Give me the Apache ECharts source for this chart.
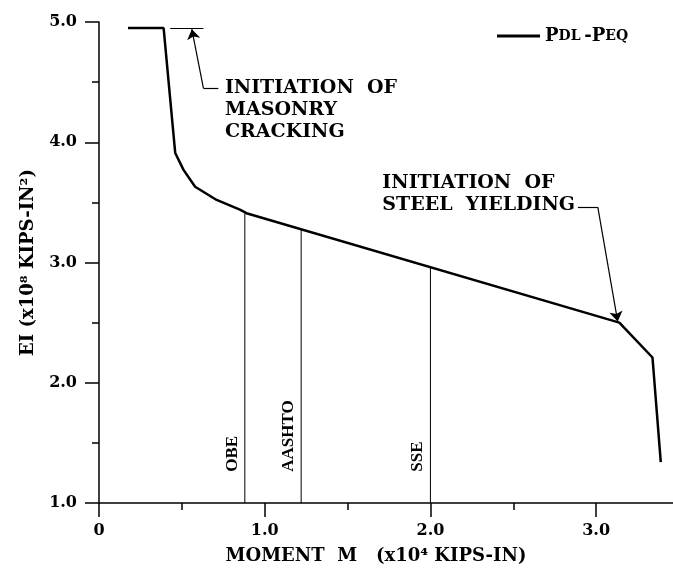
<!DOCTYPE html>
<html>
<head>
<meta charset="utf-8">
<script src="https://cdn.jsdelivr.net/npm/echarts@6/dist/echarts.min.js"></script>
<style>
  html, body { margin: 0; padding: 0; background: #fff; }
  #main { width: 673px; height: 572px; }
</style>
</head>
<body>
<div id="main"></div>
<script>
// EI vs moment curve (PDL - PEQ)
const momentVals = [0.175, 0.39, 0.46, 0.51, 0.58, 0.71, 0.85, 0.89, 3.14, 3.34, 3.39];
const eiVals = [4.95, 4.95, 3.91, 3.77, 3.63, 3.52, 3.44, 3.41, 2.50, 2.21, 1.34];

// demand levels (vertical lines)
const demandNames = ['OBE', 'AASHTO', 'SSE'];
const demandMoment = [0.88, 1.22, 2.0];
const demandEI = [3.41, 3.28, 2.96];
const demandLabelEI = 1.26;

// tick labels
const xTicks = [0, 1, 2, 3];
const xTickLabels = ['0', '1.0', '2.0', '3.0'];
const yTicks = [1, 2, 3, 4, 5];
const yTickLabels = ['1.0', '2.0', '3.0', '4.0', '5.0'];

// annotations
const crackText = 'INITIATION  OF\nMASONRY\nCRACKING';
const crackTextAt = [0.76, 4.54];
const crackMark = [[0.43, 4.95], [0.63, 4.95]];
const crackLeader = [[0.72, 4.45], [0.63, 4.45], [0.56, 4.94]];
const yieldText = 'INITIATION  OF\nSTEEL  YIELDING';
const yieldTextAt = [1.71, 3.75];
const yieldLeader = [[2.89, 3.46], [3.01, 3.46], [3.13, 2.51]];

const FONT = 'DejaVu Serif';
const FONT2 = 'Liberation Serif';

let curve = momentVals.map((m, i) => [m, eiVals[i]]);

let demandSeries = demandNames.map((n, i) => ({
    type: 'line',
    name: n,
    data: [[demandMoment[i], 1], [demandMoment[i], demandEI[i]]],
    showSymbol: false,
    lineStyle: { color: '#000', width: 1 },
    silent: true,
    z: 1
}));

function seg(a, b, endSymbol) {
    return [
        { coord: a, symbol: 'none' },
        { coord: b, symbol: endSymbol }
    ];
}

let myChart = echarts.init(document.getElementById('main'));

let option = {
    backgroundColor: '#fff',
    animation: false,
    textStyle: { fontFamily: FONT, color: '#000' },
    grid: { left: 99, width: 580, top: 22, bottom: 69, outerBoundsMode: 'none', containLabel: false },
    legend: {
        data: ['PDL -PEQ'],
        left: 492,
        top: 22,
        icon: 'rect',
        itemWidth: 43,
        itemHeight: 3,
        itemGap: 8,
        formatter: () => '{b|P}{s|DL} {b|-}{b|P}{s|EQ}',
        textStyle: {
            color: '#000',
            rich: {
                b: { fontFamily: FONT, fontWeight: 'bold', fontSize: 18, color: '#000' },
                s: { fontFamily: FONT, fontWeight: 'bold', fontSize: 14, color: '#000' }
            }
        }
    },
    xAxis: {
        type: 'value',
        min: 0,
        max: 3.5,
        interval: 1,
        name: 'MOMENT  M   (x10⁴ KIPS-IN)',
        nameLocation: 'middle',
        nameGap: 44,
        nameTextStyle: { fontFamily: FONT, fontWeight: 'bold', fontSize: 18, color: '#000', padding: [0, 26, 0, 0] },
        axisLine: { lineStyle: { color: '#000', width: 1.5 } },
        axisTick: { length: 14, lineStyle: { color: '#000', width: 1.5 } },
        minorTick: { show: true, splitNumber: 2, length: 7, lineStyle: { color: '#000', width: 1.5 } },
        splitLine: { show: false },
        axisLabel: {
            margin: 20,
            fontFamily: FONT, fontWeight: 'bold', fontSize: 16, color: '#000',
            formatter: v => { let k = xTicks.indexOf(v); return k >= 0 ? xTickLabels[k] : ''; }
        }
    },
    yAxis: {
        type: 'value',
        min: 1,
        max: 5,
        interval: 1,
        name: 'EI (x10⁸ KIPS-IN²)',
        nameLocation: 'middle',
        nameGap: 62,
        nameTextStyle: { fontFamily: FONT, fontWeight: 'bold', fontSize: 18, color: '#000' },
        axisLine: { show: true, lineStyle: { color: '#000', width: 1.5 } },
        axisTick: { show: true, length: 14, lineStyle: { color: '#000', width: 1.5 } },
        minorTick: { show: true, splitNumber: 2, length: 7, lineStyle: { color: '#000', width: 1.5 } },
        splitLine: { show: false },
        axisLabel: {
            margin: 22,
            fontFamily: FONT, fontWeight: 'bold', fontSize: 16, color: '#000',
            formatter: v => { let k = yTicks.indexOf(v); return k >= 0 ? yTickLabels[k] : ''; }
        }
    },
    series: [
        {
            type: 'line',
            name: 'PDL -PEQ',
            data: curve,
            showSymbol: false,
            lineStyle: { color: '#000', width: 2.5 },
            itemStyle: { color: '#000' },
            z: 3
        },
        ...demandSeries,
        {
            type: 'scatter',
            name: 'demandLabels',
            data: demandNames.map((n, i) => [demandMoment[i], demandLabelEI, n]),
            symbolSize: 0,
            silent: true,
            itemStyle: { opacity: 1, color: '#000' },
            label: {
                show: true,
                position: [-4, 0],
                rotate: 90,
                align: 'left',
                verticalAlign: 'bottom',
                fontFamily: FONT2, fontWeight: 'bold', fontSize: 17, color: '#000',
                formatter: p => p.data[2]
            }
        },
        {
            type: 'scatter',
            name: 'notes',
            data: [
                [crackTextAt[0], crackTextAt[1], crackText],
                [yieldTextAt[0], yieldTextAt[1], yieldText]
            ],
            symbolSize: 0,
            silent: true,
            itemStyle: { opacity: 1, color: '#000' },
            label: {
                show: true,
                position: [0, 0],
                align: 'left',
                verticalAlign: 'top',
                lineHeight: 22,
                fontFamily: FONT, fontWeight: 'bold', fontSize: 19, color: '#000',
                formatter: p => p.data[2]
            },
            markLine: {
                silent: true,
                animation: false,
                symbolSize: 10,
                label: { show: false },
                lineStyle: { color: '#000', width: 1.2, type: 'solid' },
                data: [
                    seg(crackMark[0], crackMark[1], 'none'),
                    seg(crackLeader[0], crackLeader[1], 'none'),
                    seg(crackLeader[1], crackLeader[2], 'arrow'),
                    seg(yieldLeader[0], yieldLeader[1], 'none'),
                    seg(yieldLeader[1], yieldLeader[2], 'arrow')
                ]
            }
        }
    ]
};

myChart.setOption(option);
</script>
</body>
</html>
